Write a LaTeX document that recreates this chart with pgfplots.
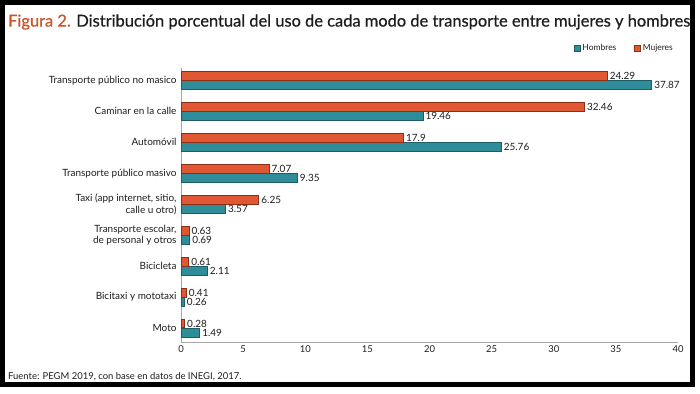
\documentclass[border=0pt]{standalone}
\usepackage{pgfplots}
\pgfplotsset{compat=1.18}
\usepackage{fontspec}
\setmainfont{Lato}
\newfontfamily\titlefont{Lato}[FakeBold=0.6]
\definecolor{hom}{HTML}{2F8C99}
\definecolor{homedge}{HTML}{1E5C66}
\definecolor{muj}{HTML}{E05733}
\definecolor{mujedge}{HTML}{8E2E14}
\definecolor{fig}{HTML}{C9552B}
\definecolor{txt}{HTML}{1E1E1E}
\begin{document}
\begin{tikzpicture}[x=1bp,y=1bp]
\useasboundingbox (0,0) rectangle (700,393);
\fill[white] (0,0) rectangle (700,393);
% title
\node[anchor=west,inner sep=0pt] at (8,371) {\resizebox{682bp}{!}{\titlefont\fontsize{15}{18}\selectfont\textcolor{fig}{Figura 2.} \textcolor{txt}{Distribución porcentual del uso de cada modo de transporte entre mujeres y hombres}}};
% source
\node[anchor=west,inner sep=0pt,text=txt] at (8,16) {\fontsize{9.5}{11}\selectfont Fuente: PEGM 2019, con base en datos de INEGI, 2017.};
\begin{axis}[
  at={(181bp,51bp)}, anchor=south west,
  scale only axis, width=497bp, height=274bp,
  xbar, xmin=0, xmax=40, ymin=-0.45, ymax=8.4,
  axis x line=bottom, axis y line=left,
  axis line style={gray!70, line width=0.6pt, -},
  xtick={0,5,...,40},
  ytick={0,...,8},
  yticklabels={Moto,Bicitaxi y mototaxi,Bicicleta,{Transporte escolar,\\de personal y otros},{Taxi (app internet, sitio,\\calle u otro)},Transporte público masivo,Automóvil,Caminar en la calle,Transporte público no masico},
  yticklabel style={align=right, font=\fontsize{10}{12}\selectfont, text=txt, xshift=-1bp},
  xticklabel style={font=\fontsize{9.5}{11}\selectfont, text=txt},
  /pgf/number format/assume math mode=true,
  major tick length=0pt,
  bar width=8.5bp,
  nodes near coords,
  point meta=explicit symbolic,
  every node near coord/.append style={font=\fontsize{10}{12}\selectfont, text=txt, anchor=west, inner sep=2.5bp},
  legend style={draw=none, fill=none, at={(1.0,1.073)}, anchor=east, legend columns=2, font=\fontsize{8.5}{10}\selectfont, text=txt, /tikz/every even column/.append style={column sep=16bp}},
  legend image code/.code={\draw[#1,line width=0.4pt] (0bp,-3bp) rectangle (6bp,3bp);},
  clip=false,
]
\addplot[fill=hom, draw=homedge, line width=0.5pt, bar shift=-4.6bp] coordinates {
 (37.87,8) [37.87]
 (19.46,7) [19.46]
 (25.76,6) [25.76]
 (9.35,5) [9.35]
 (3.57,4) [3.57]
 (0.69,3) [0.69]
 (2.11,2) [2.11]
 (0.26,1) [0.26]
 (1.49,0) [1.49]
};
\addplot[fill=muj, draw=mujedge, line width=0.5pt, bar shift=4.6bp] coordinates {
 (34.29,8) [24.29]
 (32.46,7) [32.46]
 (17.9,6) [17.9]
 (7.07,5) [7.07]
 (6.25,4) [6.25]
 (0.63,3) [0.63]
 (0.61,2) [0.61]
 (0.41,1) [0.41]
 (0.28,0) [0.28]
};
\legend{Hombres,Mujeres}
\end{axis}
% frame
\draw[black, line width=5bp] (2.5,390.5) rectangle (692.5,9);
\end{tikzpicture}
\end{document}
